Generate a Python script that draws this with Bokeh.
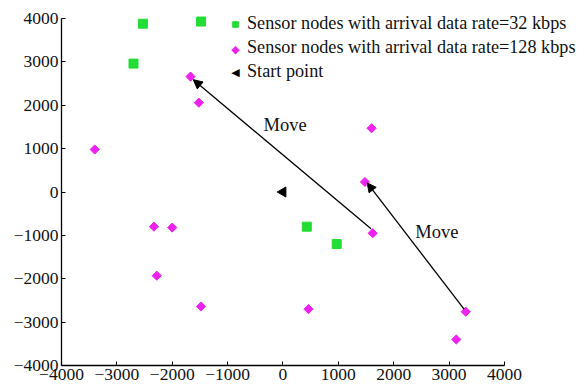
import math
from bokeh.plotting import figure
from bokeh.models import Range1d, Legend, LegendItem, Arrow, NormalHead, Label, FixedTicker
from bokeh.embed import file_html
from bokeh.resources import INLINE

# Sensor nodes, arrival data rate = 32 kbps
x32 = [-2530, -1480, -2700, 430, 970]
y32 = [3880, 3930, 2960, -800, -1200]

# Sensor nodes, arrival data rate = 128 kbps
x128 = [-3400, -1670, -1520, 1600, 1480, -2330, -2000, -2280, -1480, 1620, 460, 3300, 3130]
y128 = [980, 2660, 2060, 1470, 230, -800, -820, -1930, -2640, -950, -2700, -2760, -3400]

# Start point
xs = [0]
ys = [0]

# Move arrows (start -> end)
arrow_x0 = [1590, 3270]
arrow_y0 = [-850, -2700]
arrow_x1 = [-1620, 1520]
arrow_y1 = [2590, 210]
move_x = [-350, 2390]
move_y = [1540, -920]

ticks = [-4000, -3000, -2000, -1000, 0, 1000, 2000, 3000, 4000]

FONT = "Liberation Serif"

p = figure(width=584, height=392, output_backend="svg", toolbar_location=None,
           x_range=Range1d(-4000, 5445), y_range=Range1d(-4000, 4415),
           min_border_left=61, min_border_right=0, min_border_top=0, min_border_bottom=27)
p.outline_line_color = None
p.grid.visible = False

for ax in (p.xaxis[0], p.yaxis[0]):
    ax.ticker = FixedTicker(ticks=ticks)
    ax.bounds = (-4000, 4000)
    ax.major_tick_in = 4
    ax.major_tick_out = 0
    ax.minor_tick_in = 0
    ax.minor_tick_out = 0
    ax.axis_line_color = "black"
    ax.axis_line_width = 1.3
    ax.major_tick_line_color = "black"
    ax.major_label_text_font = FONT
    ax.major_label_text_font_size = "17.5px"
    ax.major_label_text_color = "#111111"
    ax.major_label_standoff = 3

r32 = p.scatter(x32, y32, marker="square", size=9, fill_color="#22dd33", line_color="#22dd33")
r128 = p.scatter(x128, y128, marker="square", size=6.5, angle=math.pi / 4,
                 fill_color="#ee22ee", line_color="#ee22ee")
rs = p.scatter(xs, ys, marker="triangle", size=10, angle=math.pi / 2,
               fill_color="black", line_color="black")
# invisible stand-ins for legend entries (the legend cannot rotate markers)
r128_leg = p.scatter(x=[], y=[], marker="square", size=8, fill_alpha=0, line_alpha=0)
rs_leg = p.scatter(x=[], y=[], marker="triangle", size=10, fill_alpha=0, line_alpha=0)

for i in range(len(arrow_x0)):
    p.add_layout(Arrow(end=NormalHead(size=9, fill_color="black", line_color="black"),
                       x_start=arrow_x0[i], y_start=arrow_y0[i],
                       x_end=arrow_x1[i], y_end=arrow_y1[i],
                       line_color="black", line_width=1.3))
for i in range(len(move_x)):
    p.add_layout(Label(x=move_x[i], y=move_y[i], text="Move", text_font=FONT,
                       text_font_size="18.5px", text_color="#111111",
                       text_align="left", text_baseline="middle"))

legend = Legend(items=[
    LegendItem(label="Sensor nodes with arrival data rate=32 kbps", renderers=[r32]),
    LegendItem(label="Sensor nodes with arrival data rate=128 kbps", renderers=[r128_leg]),
    LegendItem(label="Start point", renderers=[rs_leg]),
], location=(167, 283), padding=0, spacing=3, glyph_width=14, glyph_height=20,
   label_height=20, label_standoff=5, border_line_color=None, background_fill_alpha=0,
   label_text_font=FONT, label_text_font_size="18.2px", label_text_color="#111111", margin=0)
p.add_layout(legend)

p.add_layout(Label(x=174, y=316, x_units="screen", y_units="screen", text="\u25C6",
                   text_font="DejaVu Sans", text_font_size="11px", text_color="#ee22ee",
                   text_align="center", text_baseline="middle"))
p.add_layout(Label(x=174, y=293, x_units="screen", y_units="screen", text="\u25C0",
                   text_font="DejaVu Sans", text_font_size="11px", text_color="black",
                   text_align="center", text_baseline="middle"))

open("out.html", "w").write(file_html(p, INLINE))
